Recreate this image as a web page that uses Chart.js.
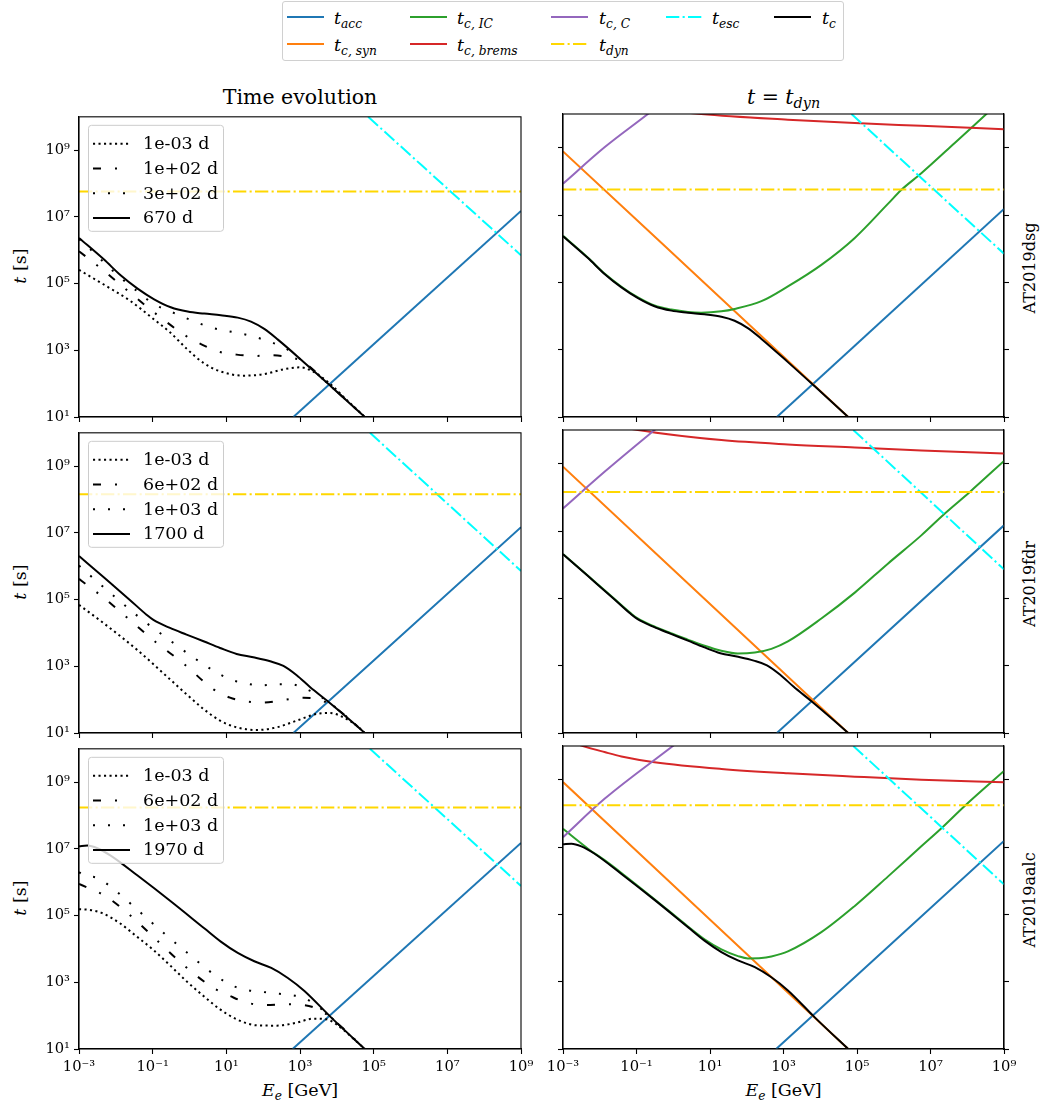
<!DOCTYPE html>
<html>
<head>
<meta charset="utf-8">
<script src="https://cdn.jsdelivr.net/npm/chart.js@4.4.1/dist/chart.umd.min.js"></script>
<style>
  body { margin: 0; background: #fff; }
  #fig { position: relative; width: 1040px; height: 1109px; font-family: 'DejaVu Serif', serif; color: #000; overflow: hidden; }
  #fig canvas { position: absolute; }
  .c { position: absolute; white-space: nowrap; transform: translate(-50%, -50%); line-height: 1; }
  .rot { position: absolute; white-space: nowrap; transform: translate(-50%, -50%) rotate(-90deg); line-height: 1; }
  .lt { position: absolute; white-space: nowrap; font-size: 17.5px; line-height: 20px; }
  sub { font-size: 70%; vertical-align: -0.3em; line-height: 0; }
  #topleg { position: absolute; left: 282px; top: 1px; width: 562px; height: 60px; border: 1px solid #d0d0d0; border-radius: 3px; box-sizing: border-box; }
  .h { position: absolute; }
</style>
</head>
<body>
<div id="fig">
  <div id="topleg"></div>
  <div class="c" style="left:300px;top:97px;font-size:20.5px">Time evolution</div>
  <div class="c" style="left:783.5px;top:97px;font-size:20.5px"><i>t</i> = <i>t</i><sub><i>dyn</i></sub></div>
  <div class="rot" style="left:21px;top:265.5px;font-size:17.5px"><i>t</i> [s]</div>
  <div class="rot" style="left:21px;top:581.5px;font-size:17.5px"><i>t</i> [s]</div>
  <div class="rot" style="left:21px;top:897.5px;font-size:17.5px"><i>t</i> [s]</div>
  <div class="rot" style="left:1030px;top:268px;font-size:16px">AT2019dsg</div>
  <div class="rot" style="left:1030px;top:584px;font-size:16px">AT2019fdr</div>
  <div class="rot" style="left:1030px;top:900px;font-size:16px">AT2019aalc</div>
  <div class="c" style="left:300px;top:1091px;font-size:17.5px"><i>E</i><sub><i>e</i></sub> [GeV]</div>
  <div class="c" style="left:783.5px;top:1091px;font-size:17.5px"><i>E</i><sub><i>e</i></sub> [GeV]</div>
</div>
<script>
// all values are log10(E / GeV), log10(t / s)

const xTicks = [-3, -1, 1, 3, 5, 7, 9];
const yTicks = [1, 3, 5, 7, 9];

// ---- AT2019dsg ----
const dsg_acc = [[2.82, 1.0], [9, 7.18]];
const dsg_esc = [[4.85, 10.0], [9, 5.85]];
const dsg_dyn = [[-3, 7.76], [9, 7.76]];
const dsg_syn = [[-3, 8.89], [4.76, 1.0], [5.2, 0.55]];
const dsg_coul = [[-3, 7.93], [-1.87, 9.01], [-0.69, 10.0], [0, 10.6]];
const dsg_brems = [[-3, 10.84], [-1.87, 10.45], [-0.51, 10.16], [0.76, 10.0], [3.12, 9.83], [4.94, 9.73], [6.75, 9.65], [9, 9.55]];
const dsg_ic = [[-3, 6.38], [-2.32, 5.73], [-1.87, 5.26], [-1.41, 4.87], [-0.96, 4.55], [-0.51, 4.31], [-0.05, 4.19], [0.40, 4.12], [0.76, 4.10], [1.31, 4.14], [1.67, 4.21], [2.40, 4.44], [3.12, 4.88], [4.03, 5.52], [4.94, 6.32], [5.84, 7.33], [6.21, 7.75], [6.75, 8.24], [7.66, 9.14], [8.52, 10.0], [9, 10.48]];
const dsg_tc = [[-3, 6.37], [-2.32, 5.72], [-1.87, 5.25], [-1.41, 4.85], [-0.96, 4.53], [-0.51, 4.29], [-0.05, 4.16], [0.40, 4.10], [0.85, 4.05], [1.31, 3.98], [1.67, 3.86], [2.03, 3.64], [2.40, 3.32], [3.12, 2.63], [3.85, 1.91], [4.76, 1.0], [5.2, 0.55]];
const dsg_early = [[-3, 5.41], [-2.34, 4.98], [-1.62, 4.49], [-0.98, 3.94], [-0.53, 3.54], [-0.08, 3.05], [0.38, 2.62], [0.83, 2.37], [1.46, 2.24], [2.0, 2.28], [2.55, 2.43], [3.0, 2.49], [3.36, 2.36], [3.81, 2.0], [4.27, 1.51], [4.76, 1.0], [5.2, 0.55]];
const dsg_mid = [[-3, 5.97], [-2.43, 5.48], [-1.62, 4.73], [-0.85, 4.04], [-0.08, 3.42], [0.38, 3.15], [0.83, 2.95], [1.28, 2.87], [1.78, 2.83], [2.19, 2.85], [2.77, 2.78], [3.09, 2.65], [3.81, 1.95], [4.76, 1.0], [5.2, 0.55]];
const dsg_late = [[-3, 6.33], [-2.88, 6.22], [-1.98, 5.28], [-1.34, 4.70], [-0.98, 4.39], [-0.57, 4.19], [-0.21, 4.02], [0.19, 3.84], [0.56, 3.69], [0.96, 3.59], [1.37, 3.51], [1.78, 3.40], [2.19, 3.25], [2.59, 3.07], [3.0, 2.74], [3.85, 1.91], [4.76, 1.0], [5.2, 0.55]];
const dsg_times = ['1e-03 d', '1e+02 d', '3e+02 d', '670 d'];

// ---- AT2019fdr ----
const fdr_acc = [[2.82, 1.0], [9, 7.17]];
const fdr_esc = [[4.9, 10.0], [9, 5.86]];
const fdr_dyn = [[-3, 8.16], [9, 8.16]];
const fdr_syn = [[-3, 8.91], [4.76, 1.0], [5.2, 0.55]];
const fdr_coul = [[-3, 7.67], [-1.87, 8.76], [-0.51, 10.0], [0.5, 10.9]];
const fdr_brems = [[-3, 10.58], [-1.87, 10.2], [-0.96, 10.0], [1.31, 9.70], [3.12, 9.57], [4.94, 9.48], [6.75, 9.39], [9, 9.30]];
const fdr_ic = [[-3, 6.32], [-2.32, 5.67], [-1.62, 5.0], [-1.16, 4.56], [-0.98, 4.41], [-0.53, 4.17], [-0.08, 3.97], [0.38, 3.78], [0.83, 3.6], [1.28, 3.45], [1.76, 3.36], [2.22, 3.39], [2.67, 3.5], [3.12, 3.72], [4.03, 4.4], [4.94, 5.17], [5.84, 6.03], [6.75, 6.87], [7.39, 7.52], [8.07, 8.16], [9, 9.08]];
const fdr_tc = [[-3, 6.31], [-2.32, 5.66], [-1.62, 4.99], [-1.16, 4.54], [-0.98, 4.39], [-0.53, 4.15], [-0.08, 3.95], [0.38, 3.75], [0.83, 3.55], [1.28, 3.37], [1.73, 3.27], [2.19, 3.15], [2.55, 3.01], [2.91, 2.73], [3.27, 2.38], [3.81, 1.90], [4.76, 1.0], [5.2, 0.55]];
const fdr_early = [[-3, 4.84], [-2.34, 4.30], [-1.43, 3.50], [-0.53, 2.61], [-0.08, 2.16], [0.38, 1.72], [0.83, 1.37], [1.28, 1.17], [1.82, 1.09], [2.37, 1.17], [2.91, 1.37], [3.45, 1.57], [3.81, 1.60], [4.18, 1.47], [4.54, 1.22], [4.76, 1.0], [5.2, 0.55]];
const fdr_mid = [[-3, 5.62], [-2.75, 5.41], [-2.38, 5.1], [-1.62, 4.39], [-0.89, 3.70], [-0.17, 3.09], [0.65, 2.31], [1.10, 2.06], [1.46, 1.96], [1.99, 1.91], [2.55, 1.99], [3.09, 2.06], [3.5, 2.01], [3.9, 1.8], [4.76, 1.0], [5.2, 0.55]];
const fdr_late = [[-3, 6.02], [-2.88, 5.90], [-1.98, 5.04], [-1.30, 4.41], [-0.62, 3.85], [0.06, 3.30], [0.74, 2.81], [1.15, 2.59], [1.51, 2.49], [1.96, 2.43], [2.37, 2.46], [2.77, 2.46], [3.18, 2.31], [3.4, 2.2], [3.81, 1.90], [4.76, 1.0], [5.2, 0.55]];
const fdr_times = ['1e-03 d', '6e+02 d', '1e+03 d', '1700 d'];

// ---- AT2019aalc ----
const aalc_acc = [[2.80, 1.0], [9, 7.18]];
const aalc_esc = [[4.9, 10.0], [9, 5.89]];
const aalc_dyn = [[-3, 8.24], [9, 8.24]];
const aalc_syn = [[-3, 8.93], [4.76, 1.0], [5.2, 0.55]];
const aalc_coul = [[-3, 7.29], [-1.87, 8.43], [-0.01, 10.0], [1, 10.85]];
const aalc_brems = [[-3, 10.2], [-2.46, 10.0], [-1.87, 9.82], [-1.41, 9.69], [-0.51, 9.52], [1.31, 9.32], [3.12, 9.19], [4.94, 9.09], [6.75, 9.0], [9, 8.92]];
const aalc_ic = [[-3, 7.54], [-2.32, 6.95], [-1.87, 6.61], [-1.41, 6.23], [-0.51, 5.45], [0.40, 4.64], [0.85, 4.26], [1.31, 3.96], [1.76, 3.76], [2.03, 3.69], [2.40, 3.70], [2.67, 3.75], [3.12, 3.9], [4.03, 4.47], [4.94, 5.25], [5.84, 6.12], [6.75, 7.02], [7.29, 7.55], [7.93, 8.22], [9, 9.26]];
const aalc_tc = [[-3, 7.08], [-2.77, 7.10], [-2.5, 7.02], [-2.14, 6.80], [-1.41, 6.20], [-0.51, 5.43], [0.40, 4.62], [0.85, 4.22], [1.31, 3.88], [1.76, 3.63], [2.22, 3.43], [2.67, 3.13], [3.12, 2.74], [3.85, 1.94], [4.76, 1.0], [5.2, 0.55]];
const aalc_early = [[-3, 5.19], [-2.70, 5.17], [-2.34, 5.06], [-1.89, 4.77], [-1.43, 4.37], [-0.98, 3.97], [-0.53, 3.51], [-0.08, 3.03], [0.38, 2.59], [0.83, 2.19], [1.28, 1.89], [1.82, 1.71], [2.37, 1.70], [2.91, 1.79], [3.36, 1.91], [3.72, 1.89], [3.99, 1.74], [4.45, 1.31], [4.76, 1.0], [5.2, 0.55]];
const aalc_mid = [[-3, 5.95], [-2.75, 5.83], [-2.29, 5.59], [-1.52, 4.92], [-0.85, 4.22], [-0.12, 3.48], [0.65, 2.83], [1.10, 2.59], [1.55, 2.39], [2.10, 2.32], [2.55, 2.34], [3.09, 2.32], [3.50, 2.19], [3.81, 1.96], [4.76, 1.0], [5.2, 0.55]];
const aalc_late = [[-3, 6.3], [-2.88, 6.22], [-2.48, 6.12], [-2.11, 5.84], [-1.48, 5.24], [-0.85, 4.62], [-0.21, 4.02], [0.11, 3.73], [0.43, 3.43], [0.74, 3.18], [1.10, 2.93], [1.51, 2.78], [1.91, 2.72], [2.32, 2.67], [2.73, 2.62], [3.09, 2.54], [3.41, 2.34], [3.85, 1.94], [4.76, 1.0], [5.2, 0.55]];
const aalc_times = ['1e-03 d', '6e+02 d', '1e+03 d', '1970 d'];

// line styles (matplotlib look, px)
const DASHDOT = [13.3, 3.3, 2.1, 3.3];
const ST = {
  acc:   { color: '#1f77b4', dash: [] },
  syn:   { color: '#ff7f0e', dash: [] },
  ic:    { color: '#2ca02c', dash: [] },
  brems: { color: '#d62728', dash: [] },
  coul:  { color: '#9467bd', dash: [] },
  esc:   { color: '#00ffff', dash: DASHDOT },
  dyn:   { color: '#ffd700', dash: DASHDOT },
  tc:    { color: '#000000', dash: [] },
  early: { color: '#000000', dash: [2.1, 3.4] },
  mid:   { color: '#000000', dash: [8, 14, 2, 14] },
  late:  { color: '#000000', dash: [2, 13] }
};

const rows = [
  { acc: dsg_acc, esc: dsg_esc, dyn: dsg_dyn, syn: dsg_syn, coul: dsg_coul, brems: dsg_brems, ic: dsg_ic, tc: dsg_tc, early: dsg_early, mid: dsg_mid, late: dsg_late, times: dsg_times },
  { acc: fdr_acc, esc: fdr_esc, dyn: fdr_dyn, syn: fdr_syn, coul: fdr_coul, brems: fdr_brems, ic: fdr_ic, tc: fdr_tc, early: fdr_early, mid: fdr_mid, late: fdr_late, times: fdr_times },
  { acc: aalc_acc, esc: aalc_esc, dyn: aalc_dyn, syn: aalc_syn, coul: aalc_coul, brems: aalc_brems, ic: aalc_ic, tc: aalc_tc, early: aalc_early, mid: aalc_mid, late: aalc_late, times: aalc_times }
];

// ---- top legend (html, because of the subscripts) ----
const topLegend = [
  { key: 'acc',   html: '<i>t</i><sub><i>acc</i></sub>',          col: 0, row: 0 },
  { key: 'syn',   html: '<i>t</i><sub><i>c, syn</i></sub>',       col: 0, row: 1 },
  { key: 'ic',    html: '<i>t</i><sub><i>c, IC</i></sub>',        col: 1, row: 0 },
  { key: 'brems', html: '<i>t</i><sub><i>c, brems</i></sub>',     col: 1, row: 1 },
  { key: 'coul',  html: '<i>t</i><sub><i>c, C</i></sub>',         col: 2, row: 0 },
  { key: 'dyn',   html: '<i>t</i><sub><i>dyn</i></sub>',          col: 2, row: 1 },
  { key: 'esc',   html: '<i>t</i><sub><i>esc</i></sub>',          col: 3, row: 0 },
  { key: 'tc',    html: '<i>t</i><sub><i>c</i></sub>',            col: 4, row: 0 }
];
const legHandleX = [286.5, 410, 551, 665.5, 773.5];
const legTextX = [334, 457, 599, 712, 822];
const legRowY = [17, 44];
(function buildTopLegend() {
  const fig = document.getElementById('fig');
  topLegend.forEach(e => {
    const st = ST[e.key];
    const y = legRowY[e.row];
    const svg = document.createElementNS('http://www.w3.org/2000/svg', 'svg');
    svg.setAttribute('width', '37'); svg.setAttribute('height', '6');
    svg.setAttribute('class', 'h');
    svg.style.left = legHandleX[e.col] + 'px';
    svg.style.top = (y - 3) + 'px';
    const ln = document.createElementNS('http://www.w3.org/2000/svg', 'line');
    ln.setAttribute('x1', '0'); ln.setAttribute('y1', '3');
    ln.setAttribute('x2', '37'); ln.setAttribute('y2', '3');
    ln.setAttribute('stroke', st.color); ln.setAttribute('stroke-width', '2');
    if (st.dash.length) ln.setAttribute('stroke-dasharray', st.dash.join(' '));
    svg.appendChild(ln);
    fig.appendChild(svg);
    const t = document.createElement('div');
    t.className = 'lt';
    t.style.left = legTextX[e.col] + 'px';
    t.style.top = (y - 9) + 'px';
    t.innerHTML = e.html;
    fig.appendChild(t);
  });
})();

// ---- helpers ----
const SUP = { '-': '\u207B', '0': '\u2070', '1': '\u00B9', '2': '\u00B2', '3': '\u00B3', '4': '\u2074', '5': '\u2075', '6': '\u2076', '7': '\u2077', '8': '\u2078', '9': '\u2079' };
function powLabel(v) {
  const n = Math.round(Math.log10(v));
  return '10' + String(n).split('').map(c => SUP[c]).join('');
}
function pts(a) {
  return a.map(p => ({ x: Math.pow(10, p[0]), y: Math.pow(10, p[1]) }));
}
function ds(data, key) {
  const st = ST[key];
  return {
    data: pts(data),
    borderColor: st.color,
    borderWidth: 2,
    borderDash: st.dash,
    pointRadius: 0,
    fill: false,
    cubicInterpolationMode: 'monotone',
    clip: 0
  };
}

// frame on all four sides, above the lines
const framePlugin = {
  id: 'frame',
  afterDatasetsDraw(chart) {
    const a = chart.chartArea, c = chart.ctx;
    c.save();
    c.strokeStyle = '#000';
    c.lineWidth = 1.1;
    c.strokeRect(a.left, a.top, a.right - a.left, a.bottom - a.top);
    c.restore();
  }
};

// small legend for the time snapshots (left column)
const snapLegend = {
  id: 'snapLegend',
  afterDraw(chart, args, opts) {
    if (!opts.items) return;
    const a = chart.chartArea, c = chart.ctx;
    const x0 = a.left + 9, y0 = a.top + 8, w = 135, h = 106;
    c.save();
    c.beginPath();
    c.roundRect(x0 + 0.5, y0 + 0.5, w, h, 3);
    c.fillStyle = 'rgba(255,255,255,0.8)';
    c.fill();
    c.strokeStyle = '#cccccc';
    c.lineWidth = 1;
    c.stroke();
    c.font = '17.5px "DejaVu Serif"';
    c.textBaseline = 'middle';
    opts.items.forEach((it, i) => {
      const y = y0 + 19 + i * 24.7;
      c.beginPath();
      c.setLineDash(it.dash);
      c.lineWidth = 2;
      c.strokeStyle = '#000';
      c.moveTo(x0 + 5, y);
      c.lineTo(x0 + 42, y);
      c.stroke();
      c.setLineDash([]);
      c.fillStyle = '#000';
      c.fillText(it.label, x0 + 55, y + 1);
    });
    c.restore();
  }
};

const rowTop = [114, 430, 746];
const plotH = 303;
const FONT = { family: 'DejaVu Serif', size: 14.7 };

function axisY(showLabels, width, position) {
  return {
    type: 'logarithmic', min: 1e1, max: 1e10, position: position,
    afterBuildTicks: s => { s.ticks = yTicks.map(n => ({ value: Math.pow(10, n) })); },
    afterFit: s => { s.width = width; },
    ticks: { display: showLabels, padding: 4, font: FONT, color: '#000', callback: v => powLabel(v) },
    grid: { display: true, drawOnChartArea: false, drawTicks: true, tickLength: 5, tickColor: '#000', tickWidth: 1.1 },
    border: { display: true, color: '#000', width: 1.1 }
  };
}

function makePanel(r, col) {
  const row = rows[r];
  const bottomRow = r === 2;
  const xh = bottomRow ? 34 : 8;
  const cv = document.createElement('canvas');
  const W = col === 0 ? 540 : 500;
  const H = 10 + plotH + xh + 6;
  cv.width = W; cv.height = H;
  cv.style.left = (col === 0 ? 0 : 540) + 'px';
  cv.style.top = (rowTop[r] - 10) + 'px';
  cv.style.width = W + 'px'; cv.style.height = H + 'px';
  document.getElementById('fig').appendChild(cv);

  // matplotlib plotting order, drawn bottom to top
  let order;
  if (col === 0) {
    order = [ds(row.acc, 'acc'), ds(row.esc, 'esc'), ds(row.dyn, 'dyn'),
             ds(row.early, 'early'), ds(row.mid, 'mid'), ds(row.late, 'late'), ds(row.tc, 'tc')];
  } else {
    order = [ds(row.acc, 'acc'), ds(row.syn, 'syn'), ds(row.ic, 'ic'), ds(row.brems, 'brems'),
             ds(row.coul, 'coul'), ds(row.esc, 'esc'), ds(row.dyn, 'dyn'), ds(row.tc, 'tc')];
  }
  order.forEach((d, i) => { d.order = order.length - i; });

  const scales = {
    x: {
      type: 'logarithmic', min: 1e-3, max: 1e9, position: 'bottom',
      afterBuildTicks: s => { s.ticks = xTicks.map(n => ({ value: Math.pow(10, n) })); },
      afterFit: s => { s.height = xh; },
      ticks: { display: bottomRow, autoSkip: false, maxRotation: 0, minRotation: 0, padding: 4, font: FONT, color: '#000', callback: v => powLabel(v) },
      grid: { display: true, drawOnChartArea: false, drawTicks: true, tickLength: 5, tickColor: '#000', tickWidth: 1.1 },
      border: { display: true, color: '#000', width: 1.1 }
    },
    y: axisY(col === 0, col === 0 ? 79 : 23, 'left')
  };
  if (col === 1) scales.yr = axisY(false, 10, 'right');

  const legendItems = col === 0 ? [
    { label: row.times[0], dash: ST.early.dash },
    { label: row.times[1], dash: ST.mid.dash },
    { label: row.times[2], dash: ST.late.dash },
    { label: row.times[3], dash: ST.tc.dash }
  ] : null;

  new Chart(cv.getContext('2d'), {
    type: 'line',
    data: { datasets: order },
    options: {
      responsive: false,
      animation: false,
      events: [],
      layout: { padding: { top: 10, bottom: 6, left: 0, right: col === 0 ? 19 : 26 } },
      plugins: {
        legend: { display: false },
        tooltip: { enabled: false },
        snapLegend: { items: legendItems }
      },
      scales: scales
    },
    plugins: [framePlugin, snapLegend]
  });
}

for (let r = 0; r < 3; r++) {
  makePanel(r, 0);
  makePanel(r, 1);
}
</script>
</body>
</html>
